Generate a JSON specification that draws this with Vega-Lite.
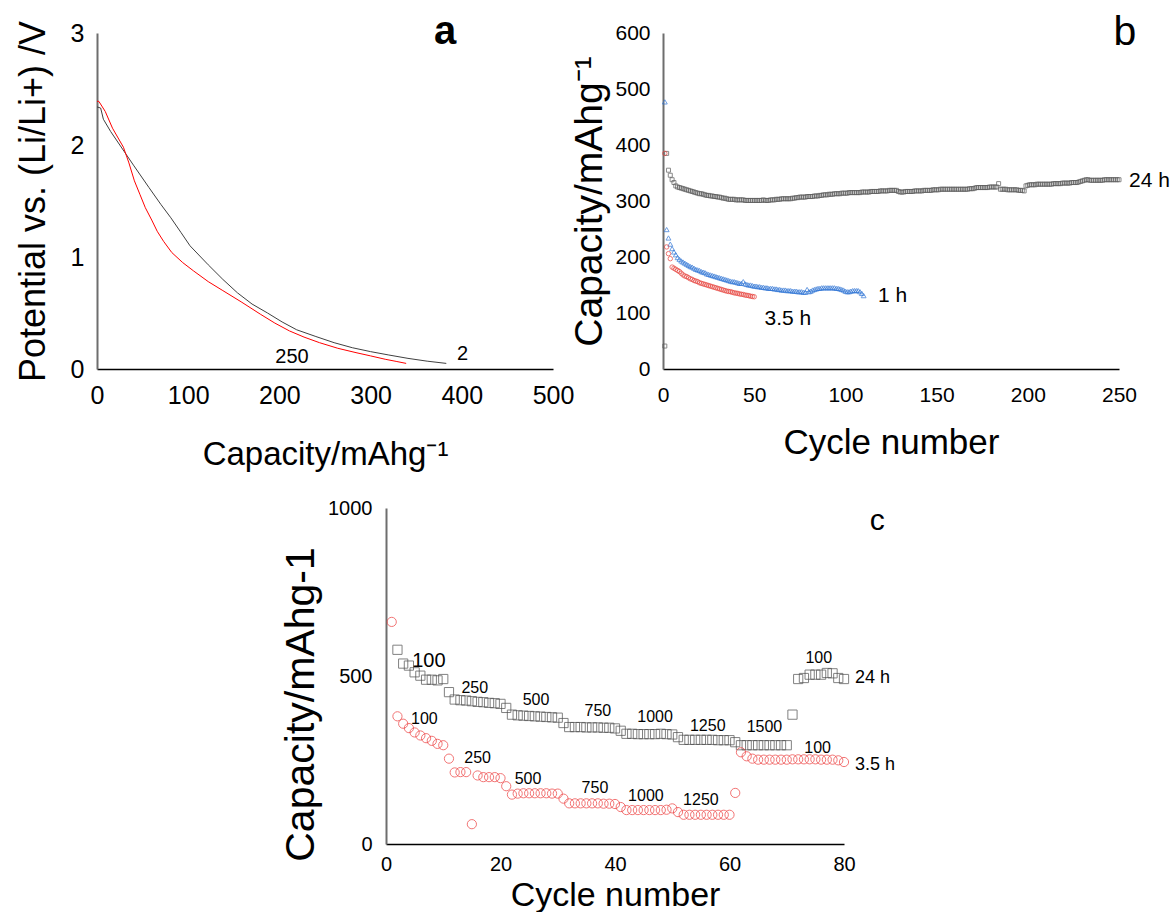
{
"$schema": "https://vega.github.io/schema/vega-lite/v6.json",
"background": "white",
"padding": {"left": 15, "top": 11, "right": 0, "bottom": 0},
"bounds": "flush",
"spacing": 475,
"config": {
  "view": {"stroke": null},
  "font": "Liberation Sans",
  "text": {"font": "Liberation Sans", "color": "#000"},
  "axis": {"labelFont": "Liberation Sans", "titleFont": "Liberation Sans", "titleFontWeight": "normal", "labelColor": "#000", "titleColor": "#000", "ticks": false, "grid": false, "labelFlush": false, "labelOverlap": false, "labelBound": false, "format": "d"}
},
"datasets": {
  "aBlack": [{"x":0,"y":2.34},{"x":4,"y":2.33},{"x":7,"y":2.23},{"x":15,"y":2.12},{"x":25,"y":2.0},{"x":40,"y":1.82},{"x":57,"y":1.62},{"x":70,"y":1.47},{"x":81,"y":1.35},{"x":92,"y":1.22},{"x":102,"y":1.1},{"x":122,"y":0.93},{"x":138,"y":0.8},{"x":154,"y":0.68},{"x":170,"y":0.58},{"x":187,"y":0.5},{"x":203,"y":0.42},{"x":219,"y":0.35},{"x":240,"y":0.29},{"x":260,"y":0.235},{"x":280,"y":0.19},{"x":300,"y":0.155},{"x":320,"y":0.125},{"x":341,"y":0.095},{"x":362,"y":0.07},{"x":383,"y":0.05}],
  "aRed": [{"x":0,"y":2.39},{"x":2,"y":2.39},{"x":9,"y":2.3},{"x":17,"y":2.15},{"x":29,"y":1.98},{"x":35,"y":1.84},{"x":41,"y":1.68},{"x":47,"y":1.56},{"x":53,"y":1.44},{"x":60,"y":1.33},{"x":66,"y":1.23},{"x":73,"y":1.14},{"x":82,"y":1.04},{"x":94,"y":0.95},{"x":106,"y":0.875},{"x":122,"y":0.78},{"x":138,"y":0.7},{"x":158,"y":0.6},{"x":179,"y":0.49},{"x":195,"y":0.41},{"x":211,"y":0.34},{"x":227,"y":0.285},{"x":244,"y":0.235},{"x":264,"y":0.185},{"x":284,"y":0.146},{"x":300,"y":0.117},{"x":316,"y":0.087},{"x":328,"y":0.068},{"x":339,"y":0.05}],
  "aLab": [{"x":213.8,"y":0.054,"t":"250"},{"x":400.8,"y":0.08,"t":"2"}],
  "aTag": [{"x":381.6,"y":2.9,"t":"a"}],
  "b24": [{"x":1,"y":41},{"x":2,"y":385},{"x":3,"y":355},{"x":4,"y":346},{"x":5,"y":338},{"x":6,"y":333},{"x":7,"y":327},{"x":8,"y":325},{"x":9,"y":324},{"x":10,"y":323},{"x":11,"y":322},{"x":12,"y":321},{"x":13,"y":320},{"x":14,"y":319},{"x":15,"y":318},{"x":16,"y":317},{"x":17,"y":316},{"x":18,"y":315},{"x":19,"y":314},{"x":20,"y":313},{"x":21,"y":313},{"x":22,"y":312},{"x":23,"y":311},{"x":24,"y":310},{"x":25,"y":310},{"x":26,"y":309},{"x":27,"y":309},{"x":28,"y":308},{"x":29,"y":308},{"x":30,"y":307},{"x":31,"y":307},{"x":32,"y":306},{"x":33,"y":305},{"x":34,"y":305},{"x":35,"y":304},{"x":36,"y":303},{"x":37,"y":303},{"x":38,"y":303},{"x":39,"y":303},{"x":40,"y":302},{"x":41,"y":302},{"x":42,"y":302},{"x":43,"y":302},{"x":44,"y":302},{"x":45,"y":301},{"x":46,"y":301},{"x":47,"y":301},{"x":48,"y":301},{"x":49,"y":301},{"x":50,"y":301},{"x":51,"y":301},{"x":52,"y":301},{"x":53,"y":301},{"x":54,"y":301},{"x":55,"y":302},{"x":56,"y":301},{"x":57,"y":301},{"x":58,"y":301},{"x":59,"y":302},{"x":60,"y":302},{"x":61,"y":302},{"x":62,"y":303},{"x":63,"y":303},{"x":64,"y":303},{"x":65,"y":304},{"x":66,"y":304},{"x":67,"y":304},{"x":68,"y":304},{"x":69,"y":304},{"x":70,"y":304},{"x":71,"y":305},{"x":72,"y":305},{"x":73,"y":306},{"x":74,"y":306},{"x":75,"y":307},{"x":76,"y":307},{"x":77,"y":307},{"x":78,"y":307},{"x":79,"y":308},{"x":80,"y":308},{"x":81,"y":308},{"x":82,"y":308},{"x":83,"y":309},{"x":84,"y":309},{"x":85,"y":309},{"x":86,"y":310},{"x":87,"y":310},{"x":88,"y":311},{"x":89,"y":311},{"x":90,"y":311},{"x":91,"y":312},{"x":92,"y":312},{"x":93,"y":312},{"x":94,"y":313},{"x":95,"y":313},{"x":96,"y":313},{"x":97,"y":313},{"x":98,"y":314},{"x":99,"y":314},{"x":100,"y":314},{"x":101,"y":314},{"x":102,"y":315},{"x":103,"y":315},{"x":104,"y":315},{"x":105,"y":315},{"x":106,"y":315},{"x":107,"y":315},{"x":108,"y":315},{"x":109,"y":316},{"x":110,"y":316},{"x":111,"y":316},{"x":112,"y":316},{"x":113,"y":316},{"x":114,"y":317},{"x":115,"y":317},{"x":116,"y":317},{"x":117,"y":317},{"x":118,"y":317},{"x":119,"y":318},{"x":120,"y":318},{"x":121,"y":318},{"x":122,"y":318},{"x":123,"y":318},{"x":124,"y":319},{"x":125,"y":319},{"x":126,"y":319},{"x":127,"y":319},{"x":128,"y":319},{"x":129,"y":317},{"x":130,"y":316},{"x":131,"y":316},{"x":132,"y":316},{"x":133,"y":317},{"x":134,"y":317},{"x":135,"y":317},{"x":136,"y":317},{"x":137,"y":317},{"x":138,"y":318},{"x":139,"y":318},{"x":140,"y":318},{"x":141,"y":318},{"x":142,"y":318},{"x":143,"y":319},{"x":144,"y":319},{"x":145,"y":319},{"x":146,"y":319},{"x":147,"y":319},{"x":148,"y":320},{"x":149,"y":320},{"x":150,"y":320},{"x":151,"y":320},{"x":152,"y":321},{"x":153,"y":321},{"x":154,"y":321},{"x":155,"y":321},{"x":156,"y":321},{"x":157,"y":321},{"x":158,"y":321},{"x":159,"y":321},{"x":160,"y":321},{"x":161,"y":321},{"x":162,"y":321},{"x":163,"y":321},{"x":164,"y":321},{"x":165,"y":321},{"x":166,"y":321},{"x":167,"y":321},{"x":168,"y":322},{"x":169,"y":322},{"x":170,"y":322},{"x":171,"y":323},{"x":172,"y":324},{"x":173,"y":324},{"x":174,"y":324},{"x":175,"y":324},{"x":176,"y":324},{"x":177,"y":324},{"x":178,"y":324},{"x":179,"y":325},{"x":180,"y":325},{"x":181,"y":325},{"x":182,"y":325},{"x":183,"y":325},{"x":184,"y":331},{"x":185,"y":321},{"x":186,"y":321},{"x":187,"y":321},{"x":188,"y":321},{"x":189,"y":320},{"x":190,"y":320},{"x":191,"y":320},{"x":192,"y":320},{"x":193,"y":320},{"x":194,"y":320},{"x":195,"y":319},{"x":196,"y":319},{"x":197,"y":319},{"x":198,"y":318},{"x":199,"y":327},{"x":200,"y":328},{"x":201,"y":329},{"x":202,"y":329},{"x":203,"y":329},{"x":204,"y":329},{"x":205,"y":330},{"x":206,"y":330},{"x":207,"y":330},{"x":208,"y":330},{"x":209,"y":330},{"x":210,"y":330},{"x":211,"y":330},{"x":212,"y":330},{"x":213,"y":330},{"x":214,"y":331},{"x":215,"y":331},{"x":216,"y":331},{"x":217,"y":331},{"x":218,"y":331},{"x":219,"y":332},{"x":220,"y":332},{"x":221,"y":332},{"x":222,"y":332},{"x":223,"y":332},{"x":224,"y":333},{"x":225,"y":333},{"x":226,"y":333},{"x":227,"y":333},{"x":228,"y":334},{"x":229,"y":335},{"x":230,"y":336},{"x":231,"y":337},{"x":232,"y":338},{"x":233,"y":338},{"x":234,"y":337},{"x":235,"y":337},{"x":236,"y":337},{"x":237,"y":337},{"x":238,"y":337},{"x":239,"y":337},{"x":240,"y":337},{"x":241,"y":337},{"x":242,"y":338},{"x":243,"y":338},{"x":244,"y":338},{"x":245,"y":338},{"x":246,"y":338},{"x":247,"y":338},{"x":248,"y":338},{"x":249,"y":338},{"x":250,"y":338}],
  "b1": [{"x":1,"y":477},{"x":2,"y":249},{"x":3,"y":234},{"x":4,"y":223},{"x":5,"y":215},{"x":6,"y":209},{"x":7,"y":204},{"x":8,"y":199},{"x":9,"y":196},{"x":10,"y":193},{"x":11,"y":191},{"x":12,"y":189},{"x":13,"y":187},{"x":14,"y":185},{"x":15,"y":183},{"x":16,"y":182},{"x":17,"y":180},{"x":18,"y":178},{"x":19,"y":177},{"x":20,"y":176},{"x":21,"y":174},{"x":22,"y":173},{"x":23,"y":172},{"x":24,"y":170},{"x":25,"y":169},{"x":26,"y":168},{"x":27,"y":167},{"x":28,"y":166},{"x":29,"y":165},{"x":30,"y":164},{"x":31,"y":163},{"x":32,"y":162},{"x":33,"y":161},{"x":34,"y":160},{"x":35,"y":159},{"x":36,"y":158},{"x":37,"y":157},{"x":38,"y":156},{"x":39,"y":156},{"x":40,"y":155},{"x":41,"y":154},{"x":42,"y":153},{"x":43,"y":153},{"x":44,"y":156},{"x":45,"y":152},{"x":46,"y":151},{"x":47,"y":150},{"x":48,"y":150},{"x":49,"y":149},{"x":50,"y":148},{"x":51,"y":148},{"x":52,"y":147},{"x":53,"y":147},{"x":54,"y":146},{"x":55,"y":146},{"x":56,"y":145},{"x":57,"y":145},{"x":58,"y":144},{"x":59,"y":144},{"x":60,"y":144},{"x":61,"y":143},{"x":62,"y":143},{"x":63,"y":142},{"x":64,"y":142},{"x":65,"y":141},{"x":66,"y":141},{"x":67,"y":141},{"x":68,"y":140},{"x":69,"y":140},{"x":70,"y":140},{"x":71,"y":139},{"x":72,"y":139},{"x":73,"y":139},{"x":74,"y":138},{"x":75,"y":138},{"x":76,"y":138},{"x":77,"y":137},{"x":78,"y":137},{"x":79,"y":142},{"x":80,"y":138},{"x":81,"y":139},{"x":82,"y":141},{"x":83,"y":142},{"x":84,"y":143},{"x":85,"y":144},{"x":86,"y":144},{"x":87,"y":145},{"x":88,"y":145},{"x":89,"y":145},{"x":90,"y":145},{"x":91,"y":145},{"x":92,"y":145},{"x":93,"y":145},{"x":94,"y":145},{"x":95,"y":144},{"x":96,"y":144},{"x":97,"y":143},{"x":98,"y":142},{"x":99,"y":141},{"x":100,"y":139},{"x":101,"y":138},{"x":102,"y":138},{"x":103,"y":139},{"x":104,"y":140},{"x":105,"y":140},{"x":106,"y":140},{"x":107,"y":140},{"x":108,"y":138},{"x":109,"y":135},{"x":110,"y":131}],
  "b35": [{"x":1,"y":385},{"x":2,"y":218},{"x":3,"y":206},{"x":4,"y":197},{"x":5,"y":182},{"x":6,"y":180},{"x":7,"y":178},{"x":8,"y":176},{"x":9,"y":174},{"x":10,"y":171},{"x":11,"y":168},{"x":12,"y":166},{"x":13,"y":165},{"x":14,"y":163},{"x":15,"y":161},{"x":16,"y":160},{"x":17,"y":158},{"x":18,"y":157},{"x":19,"y":156},{"x":20,"y":154},{"x":21,"y":153},{"x":22,"y":152},{"x":23,"y":151},{"x":24,"y":150},{"x":25,"y":149},{"x":26,"y":148},{"x":27,"y":147},{"x":28,"y":146},{"x":29,"y":145},{"x":30,"y":144},{"x":31,"y":143},{"x":32,"y":142},{"x":33,"y":141},{"x":34,"y":140},{"x":35,"y":139},{"x":36,"y":138.5},{"x":37,"y":138},{"x":38,"y":137},{"x":39,"y":136},{"x":40,"y":135.5},{"x":41,"y":135},{"x":42,"y":134},{"x":43,"y":133.5},{"x":44,"y":133},{"x":45,"y":132},{"x":46,"y":131.5},{"x":47,"y":131},{"x":48,"y":130},{"x":49,"y":129.5},{"x":50,"y":129}],
  "bLab": [{"x":255.5,"y":325,"t":"24 h"},{"x":117.9,"y":119.6,"t":"1 h"},{"x":55.7,"y":78.6,"t":"3.5 h"}],
  "bTag": [{"x":253.3,"y":578.6,"t":"b"}],
  "c24": [{"x":2,"y":578},{"x":3,"y":537},{"x":4,"y":531},{"x":5,"y":511},{"x":6,"y":501},{"x":7,"y":489},{"x":8,"y":489},{"x":9,"y":487},{"x":10,"y":491},{"x":11,"y":452},{"x":12,"y":430},{"x":13,"y":428},{"x":14,"y":427},{"x":15,"y":425},{"x":16,"y":423},{"x":17,"y":422},{"x":18,"y":420},{"x":19,"y":419},{"x":20,"y":417},{"x":21,"y":405},{"x":22,"y":385},{"x":23,"y":383},{"x":24,"y":382},{"x":25,"y":381},{"x":26,"y":380},{"x":27,"y":379},{"x":28,"y":378},{"x":29,"y":377},{"x":30,"y":376},{"x":31,"y":360},{"x":32,"y":348},{"x":33,"y":348},{"x":34,"y":348},{"x":35,"y":347},{"x":36,"y":347},{"x":37,"y":347},{"x":38,"y":346},{"x":39,"y":346},{"x":40,"y":344},{"x":41,"y":337},{"x":42,"y":328},{"x":43,"y":328},{"x":44,"y":327},{"x":45,"y":327},{"x":46,"y":327},{"x":47,"y":327},{"x":48,"y":328},{"x":49,"y":327},{"x":50,"y":326},{"x":51,"y":318},{"x":52,"y":310},{"x":53,"y":310},{"x":54,"y":310},{"x":55,"y":310},{"x":56,"y":310},{"x":57,"y":310},{"x":58,"y":309},{"x":59,"y":309},{"x":60,"y":309},{"x":61,"y":303},{"x":62,"y":294},{"x":63,"y":294},{"x":64,"y":294},{"x":65,"y":294},{"x":66,"y":294},{"x":67,"y":294},{"x":68,"y":294},{"x":69,"y":294},{"x":70,"y":294},{"x":71,"y":385},{"x":72,"y":491},{"x":73,"y":494},{"x":74,"y":504},{"x":75,"y":504},{"x":76,"y":504},{"x":77,"y":509},{"x":78,"y":508},{"x":79,"y":494},{"x":80,"y":491}],
  "c35": [{"x":1,"y":661},{"x":2,"y":380},{"x":3,"y":358},{"x":4,"y":345},{"x":5,"y":332},{"x":6,"y":323},{"x":7,"y":315},{"x":8,"y":307},{"x":9,"y":298},{"x":10,"y":294},{"x":11,"y":254},{"x":12,"y":213},{"x":13,"y":214},{"x":14,"y":214},{"x":15,"y":59},{"x":16,"y":204},{"x":17,"y":199},{"x":18,"y":199},{"x":19,"y":199},{"x":20,"y":196},{"x":21,"y":172},{"x":22,"y":147},{"x":23,"y":150},{"x":24,"y":151},{"x":25,"y":151},{"x":26,"y":151},{"x":27,"y":151},{"x":28,"y":151},{"x":29,"y":150},{"x":30,"y":150},{"x":31,"y":135},{"x":32,"y":121},{"x":33,"y":121},{"x":34,"y":121},{"x":35,"y":121},{"x":36,"y":121},{"x":37,"y":121},{"x":38,"y":120},{"x":39,"y":120},{"x":40,"y":119},{"x":41,"y":110},{"x":42,"y":101},{"x":43,"y":101},{"x":44,"y":101},{"x":45,"y":101},{"x":46,"y":101},{"x":47,"y":101},{"x":48,"y":101},{"x":49,"y":102},{"x":50,"y":106},{"x":51,"y":95},{"x":52,"y":87},{"x":53,"y":87},{"x":54,"y":87},{"x":55,"y":87},{"x":56,"y":87},{"x":57,"y":87},{"x":58,"y":87},{"x":59,"y":87},{"x":60,"y":87},{"x":61,"y":152},{"x":62,"y":273},{"x":63,"y":261},{"x":64,"y":254},{"x":65,"y":251},{"x":66,"y":251},{"x":67,"y":251},{"x":68,"y":251},{"x":69,"y":251},{"x":70,"y":251},{"x":71,"y":252},{"x":72,"y":252},{"x":73,"y":252},{"x":74,"y":252},{"x":75,"y":252},{"x":76,"y":251},{"x":77,"y":251},{"x":78,"y":251},{"x":79,"y":249},{"x":80,"y":244}],
  "cRate": [{"x":15.5,"y":449,"t":"250"},{"x":26.2,"y":413,"t":"500"},{"x":37.0,"y":381,"t":"750"},{"x":47.0,"y":363,"t":"1000"},{"x":56.2,"y":337,"t":"1250"},{"x":66.1,"y":333,"t":"1500"},{"x":75.6,"y":539,"t":"100"},{"x":6.7,"y":357,"t":"100"},{"x":16.0,"y":241,"t":"250"},{"x":24.8,"y":178,"t":"500"},{"x":36.5,"y":152,"t":"750"},{"x":45.4,"y":129,"t":"1000"},{"x":55.0,"y":117,"t":"1250"},{"x":75.4,"y":271,"t":"100"}],
  "cBig": [{"x":7.5,"y":527,"t":"100"}],
  "cSer": [{"x":81.9,"y":479,"t":"24 h"},{"x":81.9,"y":221,"t":"3.5 h"}],
  "cTag": [{"x":85.8,"y":934,"t":"c"}],
  "spacer": [{"k":1}]
},
"vconcat": [
  {
    "bounds": "flush",
    "spacing": 110,
    "hconcat": [
      {
        "width": 456, "height": 336,
        "encoding": {
          "x": {"field": "x", "type": "quantitative", "scale": {"domain": [0, 500], "nice": false},
                "axis": {"title": "Capacity/mAhg⁻¹", "values": [0,100,200,300,400,500], "labelFontSize": 25, "titleFontSize": 33, "labelPadding": 14, "titlePadding": 30, "domainColor": "#000", "domainWidth": 1.5}},
          "y": {"field": "y", "type": "quantitative", "scale": {"domain": [0, 3], "nice": false},
                "axis": {"title": "Potential vs. (Li/Li+) /V", "values": [0,1,2,3], "labelFontSize": 25, "titleFontSize": 36, "labelPadding": 13, "titlePadding": 18, "domainColor": "#6e6e6e", "domainWidth": 2}}
        },
        "layer": [
          {"data": {"name": "aBlack"}, "mark": {"type": "line", "color": "#404040", "strokeWidth": 1}},
          {"data": {"name": "aRed"}, "mark": {"type": "line", "color": "#ff0000", "strokeWidth": 1}},
          {"data": {"name": "aLab"}, "mark": {"type": "text", "fontSize": 20, "align": "center", "baseline": "alphabetic"}, "encoding": {"text": {"field": "t"}}},
          {"data": {"name": "aTag"}, "mark": {"type": "text", "fontSize": 40, "fontWeight": "bold", "align": "center", "baseline": "alphabetic"}, "encoding": {"text": {"field": "t"}}}
        ]
      },
      {
        "width": 456, "height": 336,
        "encoding": {
          "x": {"field": "x", "type": "quantitative", "scale": {"domain": [0, 250], "nice": false},
                "axis": {"title": "Cycle number", "values": [0,50,100,150,200,250], "labelFontSize": 21, "titleFontSize": 35, "labelPadding": 15, "titlePadding": 20, "domainColor": "#000", "domainWidth": 1.5}},
          "y": {"field": "y", "type": "quantitative", "scale": {"domain": [0, 600], "nice": false},
                "axis": {"title": "Capacity/mAhg⁻¹", "values": [0,100,200,300,400,500,600], "labelFontSize": 21, "titleFontSize": 39, "labelPadding": 13, "titlePadding": 5, "domainColor": "#6e6e6e", "domainWidth": 2}}
        },
        "layer": [
          {"data": {"name": "b24"}, "mark": {"type": "point", "shape": "square", "filled": false, "color": "#595959", "strokeWidth": 1, "size": 16}},
          {"data": {"name": "b1"}, "mark": {"type": "point", "shape": "triangle-up", "filled": false, "color": "#2f75d6", "strokeWidth": 1, "size": 24}},
          {"data": {"name": "b35"}, "mark": {"type": "point", "shape": "circle", "filled": false, "color": "#e8403a", "strokeWidth": 1, "size": 20}},
          {"data": {"name": "bLab"}, "mark": {"type": "text", "fontSize": 21, "align": "left", "baseline": "alphabetic"}, "encoding": {"text": {"field": "t"}}},
          {"data": {"name": "bTag"}, "mark": {"type": "text", "fontSize": 41, "align": "center", "baseline": "alphabetic"}, "encoding": {"text": {"field": "t"}}}
        ]
      }
    ]
  },
  {
    "bounds": "flush",
    "spacing": 20,
    "hconcat": [
      {"width": 269, "height": 10, "data": {"name": "spacer"}, "mark": {"type": "point", "opacity": 0}, "encoding": {}},
      {
        "width": 458, "height": 336,
        "encoding": {
          "x": {"field": "x", "type": "quantitative", "scale": {"domain": [0, 80], "nice": false},
                "axis": {"title": "Cycle number", "values": [0,20,40,60,80], "labelFontSize": 20, "titleFontSize": 34, "labelPadding": 10, "titlePadding": 4, "domainColor": "#000", "domainWidth": 1.5}},
          "y": {"field": "y", "type": "quantitative", "scale": {"domain": [0, 1000], "nice": false},
                "axis": {"title": "Capacity/mAhg-1", "values": [0,500,1000], "labelFontSize": 20, "titleFontSize": 41, "titleY": 196, "labelPadding": 14, "titlePadding": 5, "domainColor": "#6e6e6e", "domainWidth": 2}}
        },
        "layer": [
          {"data": {"name": "c24"}, "mark": {"type": "point", "shape": "square", "filled": false, "color": "#4d4d4d", "strokeWidth": 1, "size": 85}},
          {"data": {"name": "c35"}, "mark": {"type": "point", "shape": "circle", "filled": false, "color": "#ee3b3b", "strokeWidth": 1, "size": 85}},
          {"data": {"name": "cRate"}, "mark": {"type": "text", "fontSize": 16, "align": "center", "baseline": "alphabetic"}, "encoding": {"text": {"field": "t"}}},
          {"data": {"name": "cBig"}, "mark": {"type": "text", "fontSize": 20, "align": "center", "baseline": "alphabetic"}, "encoding": {"text": {"field": "t"}}},
          {"data": {"name": "cSer"}, "mark": {"type": "text", "fontSize": 18, "align": "left", "baseline": "alphabetic"}, "encoding": {"text": {"field": "t"}}},
          {"data": {"name": "cTag"}, "mark": {"type": "text", "fontSize": 30, "align": "center", "baseline": "alphabetic"}, "encoding": {"text": {"field": "t"}}}
        ]
      }
    ]
  }
]
}
